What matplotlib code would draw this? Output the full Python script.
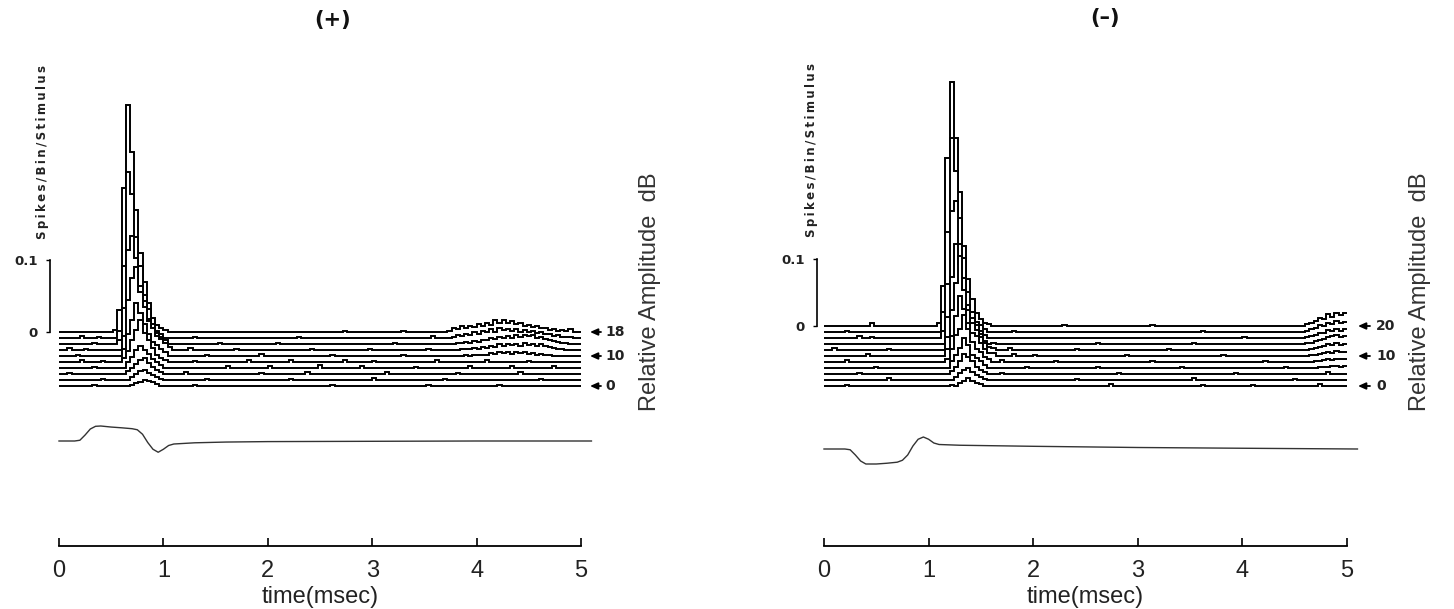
import numpy as np
import matplotlib
matplotlib.use("Agg")
import matplotlib.pyplot as plt

# ---------------- data ----------------
BIN_MS = 0.04
N_BINS = 125  # 0 - 5 ms

plus_levels = [18, 16, 14, 12, 10, 8, 6, 4, 2, 0]
minus_levels = [20, 18, 16, 14, 12, 10, 8, 6, 4, 2, 0]
plus_marked = [18, 10, 0]
minus_marked = [20, 10, 0]
tick_ms = [0, 1, 2, 3, 4, 5]

# (+) polarity: onset response, bins from 0.52 ms (rows follow plus_levels)
plus_peak_start = 0.52
plus_peak = [
    [0.003, 0.03, 0.20, 0.315, 0.25, 0.17, 0.11, 0.07, 0.04, 0.02, 0.01, 0.005, 0.003, 0, 0],
    [0, 0.01, 0.10, 0.23, 0.20, 0.14, 0.10, 0.06, 0.04, 0.02, 0.01, 0.005, 0, 0, 0],
    [0, 0.005, 0.05, 0.13, 0.15, 0.12, 0.08, 0.06, 0.035, 0.02, 0.015, 0.01, 0.005, 0, 0],
    [0, 0, 0.02, 0.07, 0.10, 0.115, 0.08, 0.06, 0.04, 0.03, 0.02, 0.015, 0.01, 0.004, 0],
    [0, 0, 0.01, 0.03, 0.05, 0.074, 0.06, 0.045, 0.03, 0.02, 0.015, 0.01, 0.005, 0, 0],
    [0, 0, 0.005, 0.015, 0.03, 0.045, 0.058, 0.04, 0.03, 0.02, 0.01, 0.006, 0.003, 0, 0],
    [0, 0, 0, 0.008, 0.015, 0.025, 0.03, 0.025, 0.02, 0.012, 0.008, 0.004, 0, 0, 0],
    [0, 0, 0, 0.004, 0.008, 0.014, 0.02, 0.022, 0.015, 0.01, 0.006, 0.003, 0, 0, 0],
    [0, 0, 0, 0, 0.004, 0.008, 0.012, 0.014, 0.01, 0.007, 0.004, 0.002, 0, 0, 0],
    [0, 0, 0, 0, 0.002, 0.004, 0.006, 0.008, 0.007, 0.005, 0.003, 0, 0, 0, 0],
]
# (+) late response, bins from 3.72 ms (top five levels)
plus_late_start = 3.72
plus_late = [
    [0.002, 0.006, 0.004, 0.008, 0.005, 0.009, 0.007, 0.011, 0.008, 0.013, 0.010, 0.016, 0.012, 0.017, 0.013,
     0.015, 0.011, 0.013, 0.009, 0.010, 0.007, 0.008, 0.005, 0.006, 0.003, 0.004, 0.002, 0.003, 0.001, 0.004],
    [0, 0.002, 0.004, 0.003, 0.006, 0.004, 0.008, 0.006, 0.010, 0.008, 0.012, 0.009, 0.014, 0.011, 0.013,
     0.010, 0.012, 0.009, 0.011, 0.008, 0.010, 0.007, 0.008, 0.005, 0.006, 0.003, 0.004, 0.002, 0.002, 0.001],
    [0, 0, 0.002, 0.001, 0.003, 0.002, 0.004, 0.003, 0.006, 0.005, 0.008, 0.007, 0.010, 0.008, 0.011,
     0.009, 0.012, 0.010, 0.013, 0.011, 0.012, 0.009, 0.010, 0.007, 0.006, 0.004, 0.003, 0.002, 0.001, 0],
    [0, 0, 0, 0.001, 0.002, 0.001, 0.003, 0.002, 0.004, 0.003, 0.006, 0.004, 0.008, 0.006, 0.009,
     0.007, 0.008, 0.006, 0.010, 0.007, 0.009, 0.006, 0.008, 0.005, 0.004, 0.003, 0.002, 0.001, 0, 0],
    [0, 0, 0, 0, 0.001, 0, 0.002, 0.001, 0.002, 0.001, 0.004, 0.003, 0.006, 0.004, 0.005,
     0.003, 0.006, 0.004, 0.005, 0.003, 0.004, 0.002, 0.003, 0.002, 0.001, 0, 0, 0, 0, 0],
]
# (+) spontaneous small counts: (time ms, spikes/bin)
plus_noise = [
    [(2.7, 0.002), (3.3, 0.002)],
    [(0.2, 0.003), (0.35, 0.002), (1.3, 0.002), (2.3, 0.002), (3.55, 0.003)],
    [(0.3, 0.002), (1.5, 0.002), (2.1, 0.002), (3.2, 0.002)],
    [(0.1, 0.003), (0.25, 0.002), (1.25, 0.003), (1.7, 0.002), (2.4, 0.002), (2.95, 0.002), (3.5, 0.002)],
    [(0.15, 0.002), (1.4, 0.002), (1.9, 0.003), (2.6, 0.002), (3.3, 0.002)],
    [(0.2, 0.003), (0.4, 0.002), (1.3, 0.002), (1.8, 0.003), (2.2, 0.003), (2.7, 0.003), (3.0, 0.002),
     (3.6, 0.003), (4.1, 0.003), (4.5, 0.002)],
    [(0.3, 0.002), (1.6, 0.003), (2.0, 0.003), (2.5, 0.004), (2.9, 0.003), (3.4, 0.002), (3.9, 0.003),
     (4.3, 0.003), (4.7, 0.003)],
    [(0.1, 0.002), (1.2, 0.003), (1.9, 0.002), (2.35, 0.003), (3.1, 0.003), (3.8, 0.002), (4.4, 0.003)],
    [(0.4, 0.002), (1.4, 0.002), (2.2, 0.002), (3.0, 0.003), (3.7, 0.002), (4.6, 0.002)],
    [(0.3, 0.002), (1.3, 0.002), (2.6, 0.002), (3.5, 0.002), (4.2, 0.002)],
]

# (-) polarity: onset response, bins from 1.08 ms (rows follow minus_levels)
minus_peak_start = 1.08
minus_peak = [
    [0.005, 0.06, 0.25, 0.364, 0.28, 0.20, 0.12, 0.07, 0.04, 0.02, 0.01, 0.005, 0.003, 0],
    [0, 0.03, 0.15, 0.29, 0.24, 0.17, 0.11, 0.06, 0.03, 0.015, 0.01, 0.005, 0, 0],
    [0, 0.01, 0.08, 0.19, 0.205, 0.14, 0.09, 0.05, 0.03, 0.02, 0.01, 0.004, 0, 0],
    [0, 0, 0.04, 0.10, 0.15, 0.12, 0.08, 0.05, 0.03, 0.02, 0.015, 0.005, 0, 0],
    [0, 0, 0.02, 0.06, 0.10, 0.14, 0.09, 0.06, 0.04, 0.03, 0.02, 0.01, 0.005, 0],
    [0, 0, 0.01, 0.03, 0.06, 0.09, 0.07, 0.05, 0.035, 0.03, 0.02, 0.01, 0.005, 0],
    [0, 0, 0.005, 0.02, 0.04, 0.05, 0.07, 0.05, 0.03, 0.02, 0.015, 0.008, 0.004, 0],
    [0, 0, 0, 0.01, 0.02, 0.03, 0.045, 0.035, 0.02, 0.015, 0.01, 0.005, 0, 0],
    [0, 0, 0, 0.005, 0.01, 0.02, 0.03, 0.025, 0.02, 0.01, 0.006, 0.003, 0, 0],
    [0, 0, 0, 0, 0.005, 0.01, 0.015, 0.018, 0.012, 0.008, 0.004, 0, 0, 0],
    [0, 0, 0, 0, 0, 0.004, 0.008, 0.012, 0.008, 0.005, 0.003, 0, 0, 0],
]
# (-) late response, bins from 4.60 ms (top eight levels)
minus_late_start = 4.60
minus_late = [
    [0.003, 0.005, 0.008, 0.012, 0.010, 0.018, 0.014, 0.020, 0.016, 0.019],
    [0.002, 0.004, 0.006, 0.010, 0.009, 0.014, 0.012, 0.016, 0.013, 0.015],
    [0.001, 0.003, 0.005, 0.008, 0.007, 0.012, 0.010, 0.014, 0.011, 0.013],
    [0.001, 0.002, 0.004, 0.006, 0.008, 0.010, 0.012, 0.014, 0.010, 0.012],
    [0, 0.001, 0.003, 0.005, 0.006, 0.009, 0.008, 0.010, 0.008, 0.009],
    [0, 0.001, 0.002, 0.003, 0.004, 0.006, 0.005, 0.007, 0.006, 0.006],
    [0, 0, 0.001, 0.002, 0.003, 0.004, 0.003, 0.005, 0.004, 0.004],
    [0, 0, 0, 0.001, 0.002, 0.002, 0.003, 0.003, 0.002, 0.003],
]
minus_noise = [
    [(0.45, 0.004), (2.3, 0.002), (3.1, 0.002)],
    [(0.2, 0.002), (1.8, 0.002), (3.6, 0.002)],
    [(0.3, 0.003), (0.45, 0.002), (4.0, 0.002)],
    [(1.6, 0.002), (2.6, 0.002), (3.5, 0.002)],
    [(0.1, 0.003), (0.6, 0.002), (1.6, 0.003), (1.75, 0.003), (2.4, 0.002), (3.3, 0.002)],
    [(0.4, 0.003), (1.6, 0.004), (1.8, 0.003), (2.0, 0.002), (2.9, 0.002), (3.8, 0.002)],
    [(0.2, 0.003), (1.7, 0.003), (2.2, 0.002), (3.1, 0.002), (4.2, 0.002)],
    [(0.5, 0.002), (1.9, 0.002), (2.6, 0.002), (3.4, 0.002), (4.4, 0.002)],
    [(0.3, 0.002), (1.7, 0.002), (2.8, 0.002), (3.9, 0.002), (4.8, 0.003)],
    [(0.6, 0.003), (1.5, 0.002), (2.4, 0.002), (3.5, 0.003), (4.5, 0.002)],
    [(0.2, 0.002), (1.2, 0.002), (2.7, 0.003), (3.6, 0.002), (4.1, 0.002), (4.7, 0.003)],
]

# stimulus (click) waveforms, relative amplitude
stim_plus_t = [0, 0.15, 0.2, 0.25, 0.3, 0.35, 0.4, 0.5, 0.6, 0.7, 0.75, 0.8, 0.85, 0.9, 0.95,
               1.0, 1.05, 1.1, 1.3, 1.6, 2.0, 3.0, 4.0, 5.1]
stim_plus_a = [0, 0, 0.05, 0.4, 0.8, 0.98, 1.0, 0.93, 0.88, 0.82, 0.75, 0.45, -0.1, -0.55, -0.75,
               -0.55, -0.3, -0.2, -0.12, -0.07, -0.04, -0.02, 0, 0]
stim_minus_t = [0, 0.2, 0.25, 0.3, 0.35, 0.4, 0.5, 0.6, 0.7, 0.75, 0.8, 0.85, 0.9, 0.95, 1.0,
                1.05, 1.1, 1.3, 2.0, 3.0, 4.0, 5.1]
stim_minus_a = [0, 0, -0.05, -0.4, -0.8, -1.0, -1.0, -0.95, -0.88, -0.75, -0.4, 0.2, 0.65, 0.8, 0.65,
                0.4, 0.3, 0.25, 0.18, 0.1, 0.05, 0.0]

# ---------------- layout (pixels of the 1454 x 609 canvas) ----------------
W, H = 1454, 609
NARROW = ['Liberation Sans Narrow', 'Liberation Sans', 'DejaVu Sans']
HELV = ['Liberation Sans', 'DejaVu Sans']

panels = [
    dict(title='(+)', levels=plus_levels, marked=plus_marked, peak=plus_peak, peak_start=plus_peak_start,
         late=plus_late, late_start=plus_late_start, noise=plus_noise, st=stim_plus_t, sa=stim_plus_a,
         x_lo=0, x_hi=727, x0=59, ppm=104.4, base=332, ppu=720, gap=6, stim_px=441, stim_amp=15,
         axis_px=546, bar_px=50, arrow_tip=590, arrow_tail=601, num_px=605, title_px=(333, 20),
         ylab_px=(43, 152), rel_px=(650, 292)),
    dict(title='(\u2013)', levels=minus_levels, marked=minus_marked, peak=minus_peak, peak_start=minus_peak_start,
         late=minus_late, late_start=minus_late_start, noise=minus_noise, st=stim_minus_t, sa=stim_minus_a,
         x_lo=727, x_hi=1454, x0=824, ppm=104.6, base=326, ppu=670, gap=6, stim_px=449, stim_amp=15,
         axis_px=546, bar_px=817, arrow_tip=1358, arrow_tail=1370, num_px=1376, title_px=(1105, 18),
         ylab_px=(811, 150), rel_px=(1420, 292)),
]

fig = plt.figure(figsize=(W / 100, H / 100), dpi=100)
fig.patch.set_facecolor('white')

edges = np.linspace(0, N_BINS * BIN_MS, N_BINS + 1)
spaced = '\u2009'.join('Spikes/Bin/Stimulus')

for p in panels:
    ax = fig.add_axes([p['x_lo'] / W, 0, (p['x_hi'] - p['x_lo']) / W, 1])
    ax.set_xlim((p['x_lo'] - p['x0']) / p['ppm'], (p['x_hi'] - p['x0']) / p['ppm'])
    ax.set_ylim((p['base'] - H) / p['ppu'], p['base'] / p['ppu'])
    ax.axis('off')
    gap = p['gap'] / p['ppu']

    for k, lvl in enumerate(p['levels']):
        h = np.zeros(N_BINS)
        i0 = int(round(p['peak_start'] / BIN_MS))
        h[i0:i0 + len(p['peak'][k])] += np.array(p['peak'][k])
        if k < len(p['late']):
            j0 = int(round(p['late_start'] / BIN_MS))
            row = p['late'][k]
            h[j0:j0 + len(row)] += np.array(row)[:N_BINS - j0]
        for t, v in p['noise'][k]:
            h[int(round(t / BIN_MS))] += v
        off = -k * gap
        z = 2 + k
        ax.stairs(h + off, edges, baseline=off, fill=True, color='white', zorder=z)
        ax.stairs(h + off, edges, baseline=None, color='black', lw=1.4, zorder=z + 0.5)
        if lvl in p['marked']:
            tip = (p['arrow_tip'] - p['x0']) / p['ppm']
            tail = (p['arrow_tail'] - p['x0']) / p['ppm']
            ax.annotate('', xy=(tip, off), xytext=(tail, off),
                        arrowprops=dict(arrowstyle='-|>,head_length=0.45,head_width=0.2',
                                        color='black', lw=1.3, shrinkA=0, shrinkB=0), zorder=30)
            ax.text((p['num_px'] - p['x0']) / p['ppm'], off, str(lvl), ha='left', va='center',
                    fontsize=10, fontweight='bold', color='#222222', zorder=30)

    # stimulus waveform
    sb = (p['base'] - p['stim_px']) / p['ppu']
    sc = p['stim_amp'] / p['ppu']
    ax.plot(p['st'], sb + sc * np.array(p['sa']), color='#333333', lw=1.0, zorder=20)

    # time axis
    ya = (p['base'] - p['axis_px']) / p['ppu']
    tax = ax.inset_axes([0, ya, 5, 0.0005], transform=ax.transData)
    tax.set_xlim(0, 5)
    tax.set_facecolor('none')
    for s in ['top', 'left', 'right']:
        tax.spines[s].set_visible(False)
    tax.spines['bottom'].set_linewidth(1.3)
    tax.set_yticks([])
    tax.set_xticks(tick_ms)
    tax.set_xticklabels([str(t) for t in tick_ms], fontfamily=NARROW, fontsize=17, color='#222222')
    tax.tick_params(axis='x', direction='in', length=6, width=1.2, pad=10)
    tax.set_xlabel('time(msec)', fontfamily=NARROW, fontsize=17, color='#222222', labelpad=3)

    # scale bar
    xb = (p['bar_px'] - p['x0']) / p['ppm']
    bax = ax.inset_axes([xb, 0, 0.0005, 0.1], transform=ax.transData)
    bax.set_ylim(0, 0.1)
    bax.set_facecolor('none')
    for s in ['top', 'bottom', 'right']:
        bax.spines[s].set_visible(False)
    bax.spines['left'].set_linewidth(1.2)
    bax.set_xticks([])
    bax.set_yticks([0, 0.1])
    bax.set_yticklabels(['0', '0.1'], fontsize=9.5, fontweight='bold', color='#222222')
    bax.tick_params(axis='y', direction='out', length=3, width=1.0, pad=6)

    fig.text(p['ylab_px'][0] / W, 1 - p['ylab_px'][1] / H, spaced, rotation=90, ha='center', va='center',
             fontsize=8.5, fontweight='bold', color='#222222')
    fig.text(p['rel_px'][0] / W, 1 - p['rel_px'][1] / H, 'Relative Amplitude  dB', rotation=90,
             ha='center', va='center', fontsize=17, fontfamily=HELV, color='#333333')
    fig.text(p['title_px'][0] / W, 1 - p['title_px'][1] / H, p['title'], ha='center', va='center',
             fontsize=15, fontweight='bold', color='#111111')

fig.savefig('out.png', dpi=100, facecolor='white')
